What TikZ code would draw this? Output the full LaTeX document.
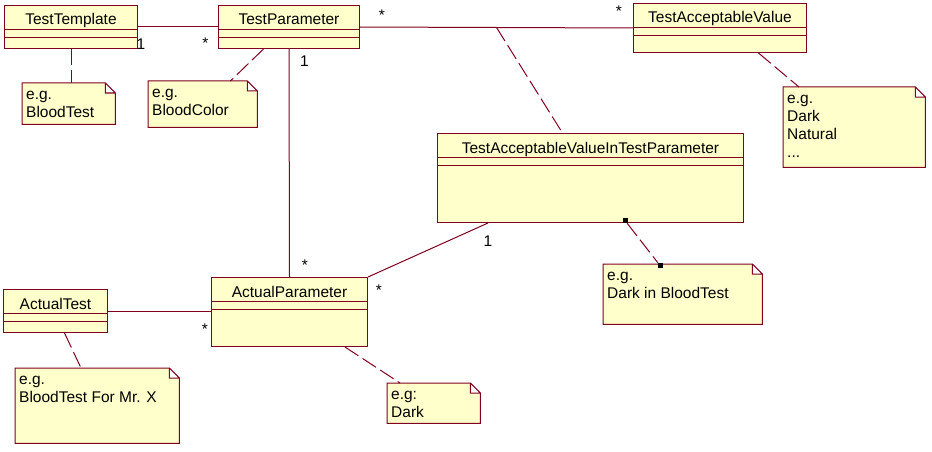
\documentclass[tikz,border=0pt]{standalone}
\usepackage{fontspec}
\setmainfont{Liberation Sans}
\definecolor{roseline}{RGB}{128,0,32}
\definecolor{rosefill}{RGB}{255,255,204}
\begin{document}
\begin{tikzpicture}[x=1pt,y=-1pt,
    font=\fontsize{15.5}{18}\selectfont,
    umlclass/.style={draw=roseline,fill=rosefill,line width=1pt,inner sep=0pt,anchor=north west,
        path picture={\draw[roseline,line width=1pt]
            ([yshift=-24pt]path picture bounding box.north west) -- ([yshift=-24pt]path picture bounding box.north east)
            ([yshift=-32pt]path picture bounding box.north west) -- ([yshift=-32pt]path picture bounding box.north east);}},
    clsname/.style={anchor=base,inner sep=0pt},
    notebox/.style={inner sep=0pt,anchor=north west},
    notefold/.style={draw=roseline,fill=rosefill,line width=1pt},
    notetext/.style={anchor=north west,inner sep=0pt,align=left},
    assoc/.style={draw=roseline,line width=1pt},
    notelink/.style={draw=roseline,line width=1pt,dash pattern=on 16pt off 5pt},
    mult/.style={anchor=north,inner sep=0pt},
    sqmark/.style={fill=black,minimum size=5pt,inner sep=0pt}]

    \useasboundingbox (0,0) rectangle (932,452);

    \node[umlclass,minimum width=133pt,minimum height=43pt] (tt) at (4,5) {};
    \node[umlclass,minimum width=141pt,minimum height=43pt] (tp) at (218,5) {};
    \node[umlclass,minimum width=173pt,minimum height=49pt] (tav) at (633,3) {};
    \node[umlclass,minimum width=306pt,minimum height=89pt] (tavp) at (437,133) {};
    \node[umlclass,minimum width=156pt,minimum height=69pt] (ap) at (211,277) {};
    \node[umlclass,minimum width=104pt,minimum height=43pt] (at) at (3,289) {};

    \node[clsname] (tt-name) at ([yshift=-20pt]tt.north) {TestTemplate};
    \node[clsname] (tp-name) at ([yshift=-20pt]tp.north) {TestParameter};
    \node[clsname] (tav-name) at ([yshift=-20pt]tav.north) {TestAcceptableValue};
    \node[clsname] (tavp-name) at ([yshift=-20pt]tavp.north) {TestAcceptableValueInTestParameter};
    \node[clsname] (ap-name) at ([yshift=-20pt]ap.north) {ActualParameter};
    \node[clsname] (at-name) at ([yshift=-20pt]at.north) {ActualTest};

    \node[notebox,minimum width=93pt,minimum height=41pt] (ntt) at (22,83) {};
    \node[notebox,minimum width=109pt,minimum height=46pt] (ntp) at (148,81) {};
    \node[notebox,minimum width=142pt,minimum height=80pt] (ntav) at (783,87) {};
    \node[notebox,minimum width=159pt,minimum height=60pt] (ntavp) at (603,264) {};
    \node[notebox,minimum width=164pt,minimum height=75pt] (nat) at (15,368) {};
    \node[notebox,minimum width=93pt,minimum height=40pt] (nap) at (387,383) {};

    \foreach \n in {ntt,ntp,ntav,ntavp,nat,nap}
        \draw[notefold] (\n.north west) -- ([xshift=-10pt]\n.north east) -- ([yshift=-10pt]\n.north east)
            -- (\n.south east) -- (\n.south west) -- cycle
            ([xshift=-10pt]\n.north east) -- ([xshift=-10pt,yshift=-10pt]\n.north east) -- ([yshift=-10pt]\n.north east);

    \node[notetext] (ntt-text) at ([xshift=4pt,yshift=-3.4pt]ntt.north west) {\strut e.g.\\BloodTest};
    \node[notetext] (ntp-text) at ([xshift=4pt,yshift=-3.4pt]ntp.north west) {\strut e.g.\\BloodColor};
    \node[notetext] (ntav-text) at ([xshift=4pt,yshift=-3.4pt]ntav.north west) {\strut e.g.\\Dark\\Natural\\...};
    \node[notetext] (ntavp-text) at ([xshift=4pt,yshift=-3.4pt]ntavp.north west) {\strut e.g.\\Dark in BloodTest};
    \node[notetext] (nat-text) at ([xshift=4pt,yshift=-3.4pt]nat.north west) {\strut e.g.\\BloodTest For Mr. X};
    \node[notetext] (nap-text) at ([xshift=4pt,yshift=-3.4pt]nap.north west) {\strut e.g:\\Dark};

    \draw[assoc] (tt.east) -- (tp.west);
    \draw[assoc] (tp.east) -- coordinate[midway] (mid) (tav.west);
    \draw[assoc] (tp.south) -- (ap.north);
    \draw[assoc] ([xshift=51pt]tavp.south west) -- (ap.north east);
    \draw[assoc] (at.east) -- (at.east -| ap.west);
    \draw[notelink] (mid) -- ([xshift=-28pt]tavp.north);

    \draw[notelink] (tt.south) -- (tt.south |- ntt.north);
    \draw[notelink] ([xshift=-25.5pt]tp.south) -- ([xshift=-27pt]ntp.north east);
    \draw[notelink] ([xshift=38.5pt]tav.south) -- ([xshift=16pt]ntav.north west);
    \draw[notelink] ([xshift=9pt]at.south) -- ([xshift=66pt]nat.north west);
    \draw[notelink] ([xshift=-23pt]ap.south east) -- ([xshift=13pt]nap.north west);

    \node[sqmark] (sq1) at ([xshift=-119pt,yshift=2.5pt]tavp.south east) {};
    \node[sqmark] (sq2) at ([xshift=57pt,yshift=-1.5pt]ntavp.north west) {};
    \draw[notelink] (sq1) -- (sq2);

    \node[mult] (m1) at (141,39) {1};
    \node[mult] (m2) at (205.5,38) {*};
    \node[mult] (m3) at (382,10) {*};
    \node[mult] (m4) at (619,6) {*};
    \node[mult] (m5) at (304.5,56) {1};
    \node[mult] (m6) at (305,260) {*};
    \node[mult] (m7) at (379,285) {*};
    \node[mult] (m8) at (205,324) {*};
    \node[mult] (m9) at (488,236) {1};
\end{tikzpicture}
\end{document}
